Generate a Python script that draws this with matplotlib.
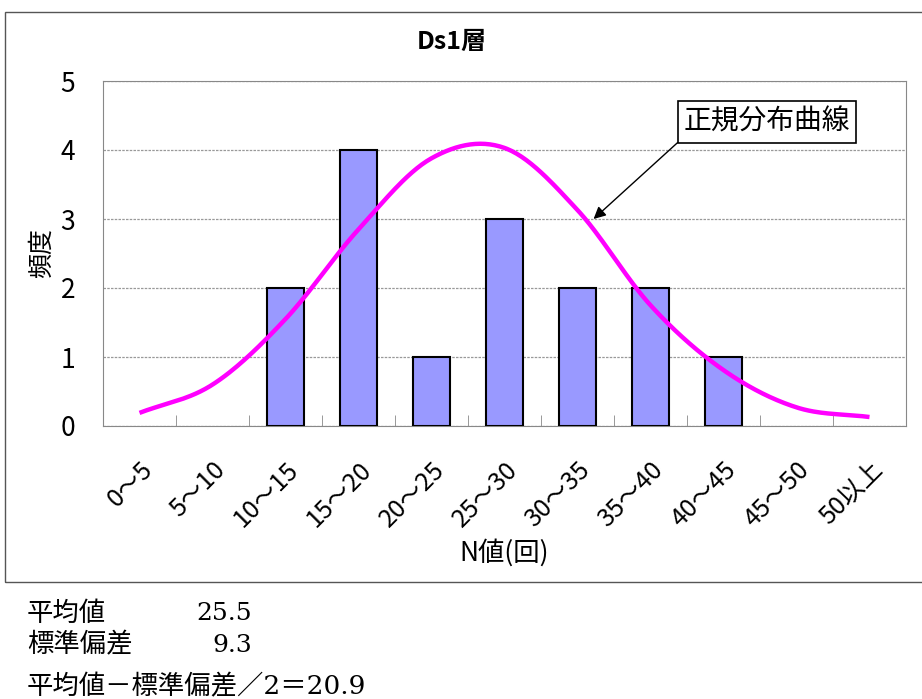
import numpy as np
import matplotlib
matplotlib.use("Agg")
import matplotlib.pyplot as plt
from matplotlib.patches import Rectangle

plt.rcParams['font.family'] = ['Noto Sans CJK JP', 'DejaVu Sans']

categories = ["0～5", "5～10", "10～15", "15～20", "20～25", "25～30",
              "30～35", "35～40", "40～45", "45～50", "50以上"]
freq = [0, 0, 2, 4, 1, 3, 2, 2, 1, 0, 0]
normal_curve = [0.19, 0.60, 1.55, 2.85, 3.88, 4.03, 3.13, 1.75, 0.81, 0.27, 0.13]
title = "Ds1層"
stats_lines = [("平均値", "25.5"), ("標準偏差", "9.3")]
formula = "平均値－標準偏差／2＝20.9"

def catmull_rom(xs, ys, n=30):
    xs = np.asarray(xs, float); ys = np.asarray(ys, float)
    px = np.concatenate([[2*xs[0]-xs[1]], xs, [2*xs[-1]-xs[-2]]])
    py = np.concatenate([[2*ys[0]-ys[1]], ys, [2*ys[-1]-ys[-2]]])
    ox, oy = [], []
    for i in range(1, len(px)-2):
        t = np.linspace(0, 1, n, endpoint=False)
        for arr, out in ((px, ox), (py, oy)):
            p0, p1, p2, p3 = arr[i-1], arr[i], arr[i+1], arr[i+2]
            out.extend(0.5*((2*p1) + (-p0+p2)*t + (2*p0-5*p1+4*p2-p3)*t**2 + (-p0+3*p1-3*p2+p3)*t**3))
    ox.append(xs[-1]); oy.append(ys[-1])
    return np.array(ox), np.array(oy)

fig = plt.figure(figsize=(9.22, 6.99), dpi=100)

# outer chart border
fig.patches.append(Rectangle((5/922, 1-582/699), 930/922, (582-12)/699,
                             transform=fig.transFigure, fill=False,
                             edgecolor='#555555', linewidth=1.0))

ax = fig.add_axes([103/922, 1-426/699, (906-103)/922, (426-81)/699])
x = np.arange(len(categories))
edgecols = ['black' if v > 0 else 'none' for v in freq]
ax.bar(x, freq, width=0.5, color='#9999FF', edgecolor=edgecols, linewidth=1.5, zorder=3)
cx, cy = catmull_rom(x, normal_curve)
ax.plot(cx, cy, color='#FF00FF', linewidth=3.2, zorder=4, solid_capstyle='butt')

ax.set_xlim(-0.5, len(categories)-0.5)
ax.set_ylim(0, 5)
ax.set_yticks(range(6))
ax.set_yticklabels([str(i) for i in range(6)], fontsize=19)
ax.tick_params(axis='y', length=0, pad=20)
ax.set_xticks(x)
ax.set_xticklabels(categories, rotation=45, ha='right', va='top',
                   rotation_mode='anchor', fontsize=18)
ax.tick_params(axis='x', length=0, pad=22)
ax.set_xticks(np.arange(0.5, len(categories)-1, 1), minor=True)
ax.tick_params(axis='x', which='minor', direction='in', length=8, color='#888888')
for sp in ax.spines.values():
    sp.set_color('#888888')
ax.yaxis.grid(True, linestyle=(0, (2, 1)), color='#999999', linewidth=0.9, zorder=0)
ax.set_axisbelow(True)

ax.set_ylabel("頻度", fontsize=18, labelpad=4)
ax.set_xlabel("N値(回)", fontsize=19)
ax.xaxis.label.set_va('center')
ax.xaxis.set_label_coords(0.5, (426-553)/345)

fig.text(452/922, 1-42/699, title, fontsize=18, fontweight='bold', ha='center', va='center')

# annotation
ax.annotate("正規分布曲線", xy=(6.22, 3.0), xycoords='data',
            xytext=(767/922, 1-122/699), textcoords='figure fraction',
            fontsize=20, ha='center', va='center',
            bbox=dict(boxstyle='square,pad=0.2', fc='white', ec='black', lw=1.2),
            arrowprops=dict(arrowstyle='-|>', color='black', lw=1.0,
                            mutation_scale=18, relpos=(0, 0),
                            shrinkA=0, shrinkB=0), zorder=6)

# stats text below
serif = ['DejaVu Serif', 'Noto Sans CJK JP']
fig.text(27/922, 1-613/699, stats_lines[0][0], fontsize=19, va='center')
fig.text(252/922, 1-613/699, stats_lines[0][1], fontsize=18, va='center', ha='right', family=serif)
fig.text(27/922, 1-645/699, stats_lines[1][0], fontsize=19, va='center')
fig.text(252/922, 1-645/699, stats_lines[1][1], fontsize=18, va='center', ha='right', family=serif)
fig.text(27/922, 1-687/699, formula, fontsize=19, va='center', family=serif)

fig.savefig("out.png", dpi=100)
